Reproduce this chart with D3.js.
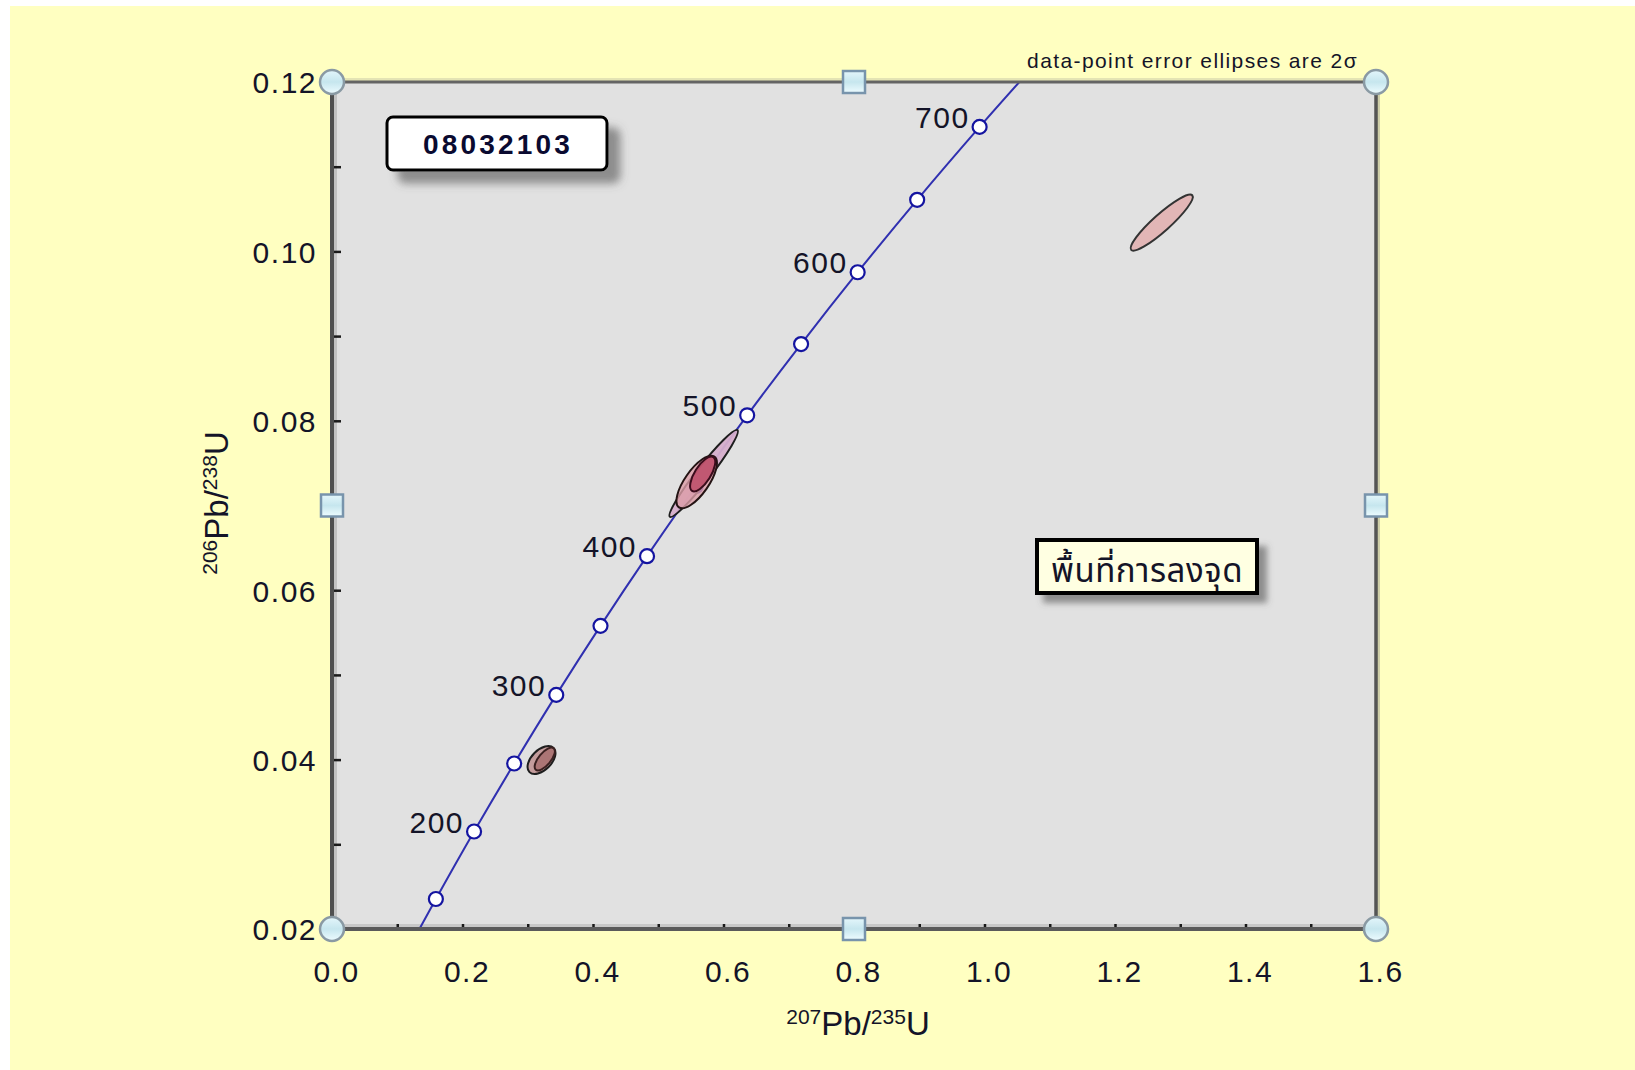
<!DOCTYPE html>
<html>
<head>
<meta charset="utf-8">
<script src="https://cdn.jsdelivr.net/npm/d3@7"></script>
<style>
  html, body { margin: 0; padding: 0; background: #ffffff; }
  svg { display: block; }
</style>
</head>
<body>
<svg id="chart" width="1635" height="1070"></svg>
<script>
// ---- data ---------------------------------------------------------------
const sampleName = "08032103";
const plotNote = "พื้นที่การลงจุด";
const ellipseNote = "data-point error ellipses are 2σ";

const xTicks = [0.0, 0.2, 0.4, 0.6, 0.8, 1.0, 1.2, 1.4, 1.6];
const xTickLabels = ["0.0", "0.2", "0.4", "0.6", "0.8", "1.0", "1.2", "1.4", "1.6"];
const xMinorTicks = [0.1, 0.2, 0.3, 0.4, 0.5, 0.6, 0.7, 0.8, 0.9, 1.0, 1.1, 1.2, 1.3, 1.4, 1.5];
const yTicks = [0.02, 0.04, 0.06, 0.08, 0.10, 0.12];
const yTickLabels = ["0.02", "0.04", "0.06", "0.08", "0.10", "0.12"];
const yMinorTicks = [0.03, 0.04, 0.05, 0.06, 0.07, 0.08, 0.09, 0.10, 0.11];

// Concordia (Ma, 207Pb/235U, 206Pb/238U); first and last rows are where it leaves the frame
const concordiaAge = [128, 150, 200, 250, 300, 350, 400, 450, 500, 550, 600, 650, 700, 731];
const concordia207 = [0.1340, 0.1592, 0.2177, 0.2792, 0.3437, 0.4115, 0.4828, 0.5576, 0.6363, 0.7189, 0.8056, 0.8968, 0.9925, 1.0534];
const concordia206 = [0.0200, 0.02354, 0.03151, 0.03954, 0.04764, 0.05579, 0.06402, 0.07230, 0.08065, 0.08906, 0.09754, 0.10609, 0.11470, 0.1200];
const markerAges = [150, 200, 250, 300, 350, 400, 450, 500, 550, 600, 650, 700];
const labelAges = [200, 300, 400, 500, 600, 700];

// Analyses: centre, 2-sigma errors and error correlation
const spotX   = [0.3211, 0.3261, 0.5696, 0.5589, 0.5681, 1.2716];
const spotY   = [0.03995, 0.04007, 0.07378, 0.07277, 0.07372, 0.1034];
const spotSx  = [0.0214, 0.0155, 0.0525, 0.0310, 0.0193, 0.0476];
const spotSy  = [0.00165, 0.00135, 0.00514, 0.00310, 0.00206, 0.00331];
const spotRho = [0.49, 0.68, 0.966, 0.72, 0.69, 0.917];

// ---- styling ------------------------------------------------------------
const spotFill    = ["#c49c9c", "#9c5c5c", "#d6aecb", "#dc9ea8", "#b8405e", "#e2b6b6"];
const spotOpacity = [1, 0.6, 0.95, 0.8, 0.75, 1];
const spotStroke  = ["#1e1e1e", "#3a2020", "#1e1e1e", "#241414", "#3a0c1c", "#333"];
const labelFont = "'Liberation Sans', Arial, sans-serif";

const svg = d3.select("#chart");
const W = 1635, H = 1070;
const P = { left: 332, right: 1376, top: 82, bottom: 929 };

const x = d3.scaleLinear().domain([0, 1.6]).range([P.left, P.right]);
const y = d3.scaleLinear().domain([0.02, 0.12]).range([P.bottom, P.top]);

// ---- defs: gradients, shadows, clip -------------------------------------
const defs = svg.append("defs");
const hg = defs.append("linearGradient").attr("id", "handleFill")
  .attr("x1", 0).attr("y1", 0).attr("x2", 0).attr("y2", 1);
hg.append("stop").attr("offset", "0%").attr("stop-color", "#e4f6fb");
hg.append("stop").attr("offset", "50%").attr("stop-color", "#c6e6ee");
hg.append("stop").attr("offset", "100%").attr("stop-color", "#eefcff");

function shadow(id, dx, dy, blur, op) {
  const f = defs.append("filter").attr("id", id)
    .attr("x", "-20%").attr("y", "-30%").attr("width", "150%").attr("height", "180%");
  f.append("feDropShadow").attr("dx", dx).attr("dy", dy)
    .attr("stdDeviation", blur).attr("flood-color", "#555").attr("flood-opacity", op);
}
shadow("boxShadow", 12, 12, 4, 0.6);
shadow("noteShadow", 8, 8, 3, 0.6);

defs.append("clipPath").attr("id", "plotClip").append("rect")
  .attr("x", P.left).attr("y", P.top)
  .attr("width", P.right - P.left).attr("height", P.bottom - P.top);

// ---- background ---------------------------------------------------------
svg.append("rect").attr("x", 10).attr("y", 6).attr("width", W - 10).attr("height", H - 6)
  .attr("fill", "#ffffc1");

// plot area
svg.append("rect").attr("x", P.left).attr("y", P.top)
  .attr("width", P.right - P.left).attr("height", P.bottom - P.top)
  .attr("fill", "#e1e1e1");

// soft bevel inside the left and bottom edges, shade outside the right and top
svg.append("rect").attr("x", P.left + 2).attr("y", P.top).attr("width", 3)
  .attr("height", P.bottom - P.top).attr("fill", "#c2c2c2");
svg.append("rect").attr("x", P.left).attr("y", P.bottom - 5).attr("width", P.right - P.left)
  .attr("height", 3).attr("fill", "#c8c8c8");
svg.append("rect").attr("x", P.right + 1).attr("y", P.top).attr("width", 3)
  .attr("height", P.bottom - P.top).attr("fill", "#cfcfa8");
svg.append("rect").attr("x", P.left).attr("y", P.top - 4).attr("width", P.right - P.left)
  .attr("height", 3).attr("fill", "#e4e4b4");

// ---- axes ---------------------------------------------------------------
const xMinor = svg.append("g").attr("transform", `translate(0,${P.bottom})`)
  .call(d3.axisBottom(x).tickValues(xMinorTicks).tickSize(-5).tickFormat(""));
xMinor.select(".domain").remove();
xMinor.selectAll("line").attr("stroke", "#1a1a1a").attr("stroke-width", 2.5);

const yMinor = svg.append("g").attr("transform", `translate(${P.left},0)`)
  .call(d3.axisLeft(y).tickValues(yMinorTicks).tickSize(-9).tickFormat(""));
yMinor.select(".domain").remove();
yMinor.selectAll("line").attr("stroke", "#1a1a1a").attr("stroke-width", 2.5);

const xAxis = svg.append("g").attr("transform", `translate(0,${P.bottom})`)
  .call(d3.axisBottom(x).tickValues(xTicks)
    .tickFormat((d, i) => xTickLabels[i]).tickSize(0).tickPadding(0));
xAxis.select(".domain").remove();
xAxis.attr("font-family", null).attr("font-size", null);
xAxis.selectAll("text")
  .attr("x", 4).attr("y", 53).attr("dy", null)
  .attr("font-family", labelFont).attr("font-size", 30)
  .attr("letter-spacing", 1.5).attr("fill", "#141428");

const yAxis = svg.append("g").attr("transform", `translate(${P.left},0)`)
  .call(d3.axisLeft(y).tickValues(yTicks)
    .tickFormat((d, i) => yTickLabels[i]).tickSize(0).tickPadding(15));
yAxis.select(".domain").remove();
yAxis.attr("font-family", null).attr("font-size", null);
yAxis.selectAll("text")
  .attr("dy", "0.36em")
  .attr("font-family", labelFont).attr("font-size", 30)
  .attr("letter-spacing", 1.5).attr("fill", "#141428");

// axis titles with isotope superscripts
function isotopeTitle(g, massA, massB, elemB) {
  const t = g.append("text").attr("font-family", labelFont).attr("fill", "#141428")
    .attr("text-anchor", "middle");
  t.append("tspan").attr("font-size", 21).attr("dy", -11).text(massA);
  t.append("tspan").attr("font-size", 33).attr("dy", 11).text("Pb/");
  t.append("tspan").attr("font-size", 21).attr("dy", -11).text(massB);
  t.append("tspan").attr("font-size", 33).attr("dy", 11).text(elemB);
  return t;
}
isotopeTitle(svg.append("g").attr("transform", "translate(858,1035)"), "207", "235", "U");
isotopeTitle(svg.append("g").attr("transform", "translate(228,503) rotate(-90)"), "206", "238", "U");

// ---- concordia ----------------------------------------------------------
const plot = svg.append("g").attr("clip-path", "url(#plotClip)");
const concordia = concordiaAge.map((a, i) => ({ age: a, r207: concordia207[i], r206: concordia206[i] }));

plot.append("path").datum(concordia)
  .attr("fill", "none").attr("stroke", "#3030b0").attr("stroke-width", 2)
  .attr("d", d3.line().x(d => x(d.r207)).y(d => y(d.r206)).curve(d3.curveCatmullRom));

const markers = concordia.filter(d => markerAges.includes(d.age));
plot.selectAll("circle.age").data(markers).join("circle")
  .attr("class", "age")
  .attr("cx", d => x(d.r207)).attr("cy", d => y(d.r206)).attr("r", 7)
  .attr("fill", "#ffffff").attr("stroke", "#1414a0").attr("stroke-width", 2.2);

svg.selectAll("text.age").data(concordia.filter(d => labelAges.includes(d.age))).join("text")
  .attr("class", "age")
  .attr("x", d => x(d.r207) - 10).attr("y", d => y(d.r206) + 1)
  .attr("text-anchor", "end")
  .attr("font-family", labelFont).attr("font-size", 30).attr("letter-spacing", 1.5)
  .attr("fill", "#141428")
  .text(d => d.age);

// ---- error ellipses -----------------------------------------------------
const kx = x(1) - x(0);
const ky = y(0) - y(1);
const spots = spotX.map((cx, i) => {
  const sx = spotSx[i] * kx, sy = spotSy[i] * ky;
  const cov = -spotRho[i] * sx * sy;           // screen y points down
  const m = (sx * sx + sy * sy) / 2;
  const d = Math.sqrt(((sx * sx - sy * sy) / 2) ** 2 + cov * cov);
  const ang = 0.5 * Math.atan2(2 * cov, sx * sx - sy * sy) * 180 / Math.PI;
  return { cx: x(cx), cy: y(spotY[i]), rx: Math.sqrt(m + d), ry: Math.sqrt(Math.max(m - d, 0.5)), ang, i };
});
plot.selectAll("ellipse.spot").data(spots).join("ellipse")
  .attr("class", "spot")
  .attr("transform", d => `translate(${d.cx},${d.cy}) rotate(${d.ang})`)
  .attr("rx", d => d.rx).attr("ry", d => d.ry)
  .attr("fill", d => spotFill[d.i]).attr("fill-opacity", d => spotOpacity[d.i])
  .attr("stroke", d => spotStroke[d.i]).attr("stroke-width", 2);

// ---- frame --------------------------------------------------------------
svg.append("line").attr("x1", P.left).attr("x2", P.right).attr("y1", P.top).attr("y2", P.top)
  .attr("stroke", "#646464").attr("stroke-width", 3);
svg.append("line").attr("x1", P.right).attr("x2", P.right).attr("y1", P.top).attr("y2", P.bottom)
  .attr("stroke", "#555").attr("stroke-width", 3.5);
svg.append("line").attr("x1", P.left).attr("x2", P.left).attr("y1", P.top).attr("y2", P.bottom)
  .attr("stroke", "#505050").attr("stroke-width", 4);
svg.append("line").attr("x1", P.left).attr("x2", P.right).attr("y1", P.bottom).attr("y2", P.bottom)
  .attr("stroke", "#5a5a5a").attr("stroke-width", 4);

// ---- annotations --------------------------------------------------------
const title = svg.append("g");
title.append("rect").attr("x", 387).attr("y", 117).attr("width", 220).attr("height", 53)
  .attr("rx", 6).attr("fill", "#ffffff").attr("stroke", "#000").attr("stroke-width", 3)
  .attr("filter", "url(#boxShadow)");
title.append("text").attr("x", 498).attr("y", 154).attr("text-anchor", "middle")
  .attr("font-family", labelFont).attr("font-weight", "bold").attr("font-size", 28)
  .attr("letter-spacing", 3.2).attr("fill", "#0a0a30").text(sampleName);

const note = svg.append("g");
note.append("rect").attr("x", 1037).attr("y", 540).attr("width", 220).attr("height", 53)
  .attr("fill", "#ffffe2").attr("stroke", "#000").attr("stroke-width", 4)
  .attr("filter", "url(#noteShadow)");
note.append("text").attr("x", 1147).attr("y", 582).attr("text-anchor", "middle")
  .attr("font-family", "'Noto Sans Thai', 'Noto Sans', 'DejaVu Sans', sans-serif")
  .attr("font-size", 33).attr("letter-spacing", 0.5).attr("fill", "#141428").text(plotNote);

svg.append("text").attr("x", 1358).attr("y", 68).attr("text-anchor", "end")
  .attr("font-family", labelFont).attr("font-size", 21).attr("letter-spacing", 1.4)
  .attr("fill", "#141428").text(ellipseNote);

// ---- resize handles on the frame ---------------------------------------
const corners = [[P.left, P.top], [P.right, P.top], [P.left, P.bottom], [P.right, P.bottom]];
svg.selectAll("circle.handle").data(corners).join("circle")
  .attr("class", "handle").attr("cx", d => d[0]).attr("cy", d => d[1]).attr("r", 12)
  .attr("fill", "url(#handleFill)").attr("stroke", "#8a9aa4").attr("stroke-width", 2.5);
const mids = [[(P.left + P.right) / 2, P.top], [(P.left + P.right) / 2, P.bottom],
              [P.left, (P.top + P.bottom) / 2], [P.right, (P.top + P.bottom) / 2]];
svg.selectAll("rect.handle").data(mids).join("rect")
  .attr("class", "handle").attr("x", d => d[0] - 11).attr("y", d => d[1] - 11)
  .attr("width", 22).attr("height", 22)
  .attr("fill", "url(#handleFill)").attr("stroke", "#7894ac").attr("stroke-width", 2.5);
</script>
</body>
</html>
